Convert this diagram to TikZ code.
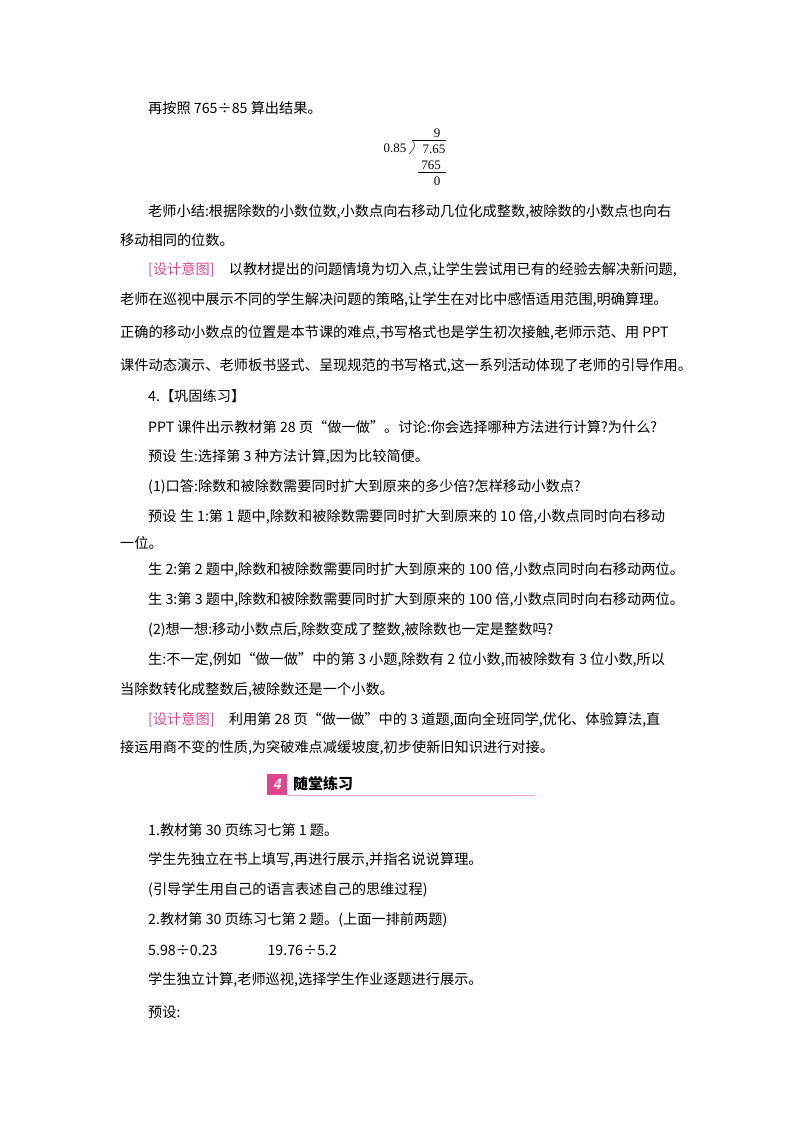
\documentclass[tikz,border=0pt]{standalone}
\usepackage{fontspec}
\setmainfont{Noto Sans CJK SC}
\newfontfamily\numf{Liberation Serif}
\definecolor{pinkc}{RGB}{225,70,140}
\definecolor{lpink}{RGB}{235,160,190}
\tikzset{ln/.style={anchor=west,inner sep=0pt,font=\fontsize{14.2}{16}\selectfont},
 dv/.style={inner sep=0pt,font=\numf\fontsize{13}{14}\selectfont}}
\begin{document}
\begin{tikzpicture}[x=1pt,y=-1pt]
\useasboundingbox (0,0) rectangle (800,1132);
\fill[white] (0,0) rectangle (800,1132);
\node[ln] (l1) at (148,108) {再按照 765÷85 算出结果。};
% division
\node[dv] (q) at (437,133) {9};
\node[dv] (d) at (395,148) {0.85};
\node[dv] (n) at (434,149) {7.65};
\node[dv] (p) at (431,165) {765};
\node[dv] (r) at (437,181) {0};
\draw (412,140) -- (446,140);
\draw (412,140) .. controls (416,146) .. (409,154);
\draw (418,172) -- (446,172);
\node[ln] (a1) at (148,212) {老师小结:根据除数的小数位数,小数点向右移动几位化成整数,被除数的小数点也向右};
\node[ln] (a2) at (120,240) {移动相同的位数。};
\node[ln] (b1) at (148,270) {\textcolor{pinkc}{[设计意图]}\quad 以教材提出的问题情境为切入点,让学生尝试用已有的经验去解决新问题,};
\node[ln] (b2) at (120,300) {老师在巡视中展示不同的学生解决问题的策略,让学生在对比中感悟适用范围,明确算理。};
\node[ln] (b3) at (120,333) {正确的移动小数点的位置是本节课的难点,书写格式也是学生初次接触,老师示范、用 PPT};
\node[ln] (b4) at (120,366) {课件动态演示、老师板书竖式、呈现规范的书写格式,这一系列活动体现了老师的引导作用。};
\node[ln] (c1) at (148,396) {4.【巩固练习】};
\node[ln] (c2) at (148,427) {PPT 课件出示教材第 28 页“做一做”。讨论:你会选择哪种方法进行计算?为什么?};
\node[ln] (c3) at (148,457) {预设\ 生:选择第 3 种方法计算,因为比较简便。};
\node[ln] (c4) at (148,487) {(1)口答:除数和被除数需要同时扩大到原来的多少倍?怎样移动小数点?};
\node[ln] (c5) at (148,517) {预设\ 生 1:第 1 题中,除数和被除数需要同时扩大到原来的 10 倍,小数点同时向右移动};
\node[ln] (c6) at (120,543) {一位。};
\node[ln] (c7) at (148,570) {生 2:第 2 题中,除数和被除数需要同时扩大到原来的 100 倍,小数点同时向右移动两位。};
\node[ln] (c8) at (148,600) {生 3:第 3 题中,除数和被除数需要同时扩大到原来的 100 倍,小数点同时向右移动两位。};
\node[ln] (c9) at (148,630) {(2)想一想:移动小数点后,除数变成了整数,被除数也一定是整数吗?};
\node[ln] (c10) at (148,660) {生:不一定,例如“做一做”中的第 3 小题,除数有 2 位小数,而被除数有 3 位小数,所以};
\node[ln] (c11) at (120,690) {当除数转化成整数后,被除数还是一个小数。};
\node[ln] (d1) at (148,720) {\textcolor{pinkc}{[设计意图]}\quad 利用第 28 页“做一做”中的 3 道题,面向全班同学,优化、体验算法,直};
\node[ln] (d2) at (120,748) {接运用商不变的性质,为突破难点减缓坡度,初步使新旧知识进行对接。};
% header
\fill[pinkc] (267,774) rectangle (287,795);
\node[inner sep=0pt,text=white,font=\sffamily\bfseries\itshape\fontsize{15}{15}\selectfont] (h4) at (277,784.5) {4};
\node[ln,font=\bfseries\fontsize{15}{16}\selectfont] (ht) at (293,784) {随堂练习};
\draw[lpink,line width=1pt] (287,795) -- (535,795);
\node[ln] (e1) at (148,830) {1.教材第 30 页练习七第 1 题。};
\node[ln] (e2) at (148,860) {学生先独立在书上填写,再进行展示,并指名说说算理。};
\node[ln] (e3) at (148,890) {(引导学生用自己的语言表述自己的思维过程)};
\node[ln] (e4) at (148,920) {2.教材第 30 页练习七第 2 题。(上面一排前两题)};
\node[ln] (e5) at (148,950) {5.98÷0.23\hspace{50pt}19.76÷5.2};
\node[ln] (e6) at (148,980) {学生独立计算,老师巡视,选择学生作业逐题进行展示。};
\node[ln] (e7) at (148,1012) {预设:};
\end{tikzpicture}
\end{document}
